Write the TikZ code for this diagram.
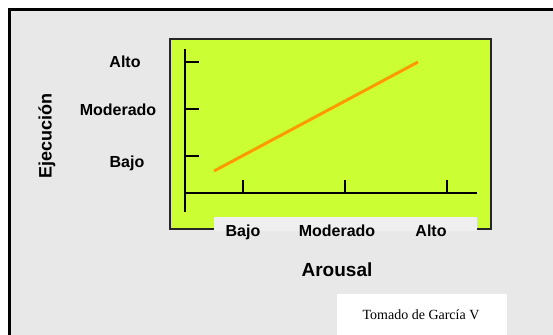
\documentclass[tikz,border=0pt]{standalone}
\usepackage{fontspec}
\setmainfont{Liberation Serif}
\setsansfont{Liberation Sans}
\usetikzlibrary{positioning}
\definecolor{fondo}{HTML}{E8E8E8}
\definecolor{banda}{HTML}{EFEFEF}
\definecolor{verde}{HTML}{CCFF33}
\definecolor{naranja}{HTML}{FF9900}

\begin{document}
\begin{tikzpicture}[x=1pt, y=-1pt, font=\sffamily\bfseries\fontsize{16}{18}\selectfont,
    etiq/.style={anchor=base, inner sep=0pt}]
    \useasboundingbox (0,0) rectangle (553,334);
    % fondo y marco
    \fill[white] (0,0) rectangle (553,334);
    \draw[line width=3pt, fill=fondo] (9,10) rectangle (570,350);
    % area del grafico
    \draw[fill=verde, draw=black!85, line width=1.2pt] (170,39) rectangle (491,229);
    \fill[banda] (214,217) rectangle (477,231);

    % ejes
    \coordinate (ytop) at (185,49);
    \coordinate (ybot) at (185,212);
    \coordinate (xend) at (477,193);
    \coordinate (orig) at (185,193);
    \draw[line width=2.6pt] (ytop) -- (ybot);
    \draw[line width=2.6pt] (orig) -- (xend);

    % marcas eje y
    \foreach \y [count=\i] in {62, 109, 156} {
        \coordinate (ty\i) at (185,\y);
        \draw[line width=2.8pt] (ty\i) -- ++(14,0);
    }
    % marcas eje x
    \foreach \x [count=\i] in {243, 345, 447} {
        \coordinate (tx\i) at (\x,193);
        \draw[line width=2.8pt] (tx\i) -- ++(0,-13);
    }

    % recta
    \coordinate (p0) at (214,171);
    \coordinate (p1) at (418,62);
    \draw[naranja, line width=3pt] (p0) -- (p1);

    % etiquetas eje y
    \node[etiq] (yalto) at (125,68) {Alto};
    \node[etiq] (ymod) at (118,115) {Moderado};
    \node[etiq] (ybajo) at (127,167) {Bajo};
    \node[rotate=90, font=\sffamily\bfseries\fontsize{18}{20}\selectfont] (ejec) at (47,136) {Ejecución};

    % etiquetas eje x
    \node[etiq] (xbajo) at (243,236) {Bajo};
    \node[etiq] (xmod) at (337,236) {Moderado};
    \node[etiq] (xalto) at (431,236) {Alto};
    \node[etiq, font=\sffamily\bfseries\fontsize{19}{22}\selectfont] (arousal) at (337,276) {Arousal};

    % fuente
    \fill[white] (337,294) rectangle (507,340);
    \node[etiq, font=\rmfamily\fontsize{14}{16}\selectfont] (fuente) at (421,319) {Tomado de García V};
\end{tikzpicture}
\end{document}
